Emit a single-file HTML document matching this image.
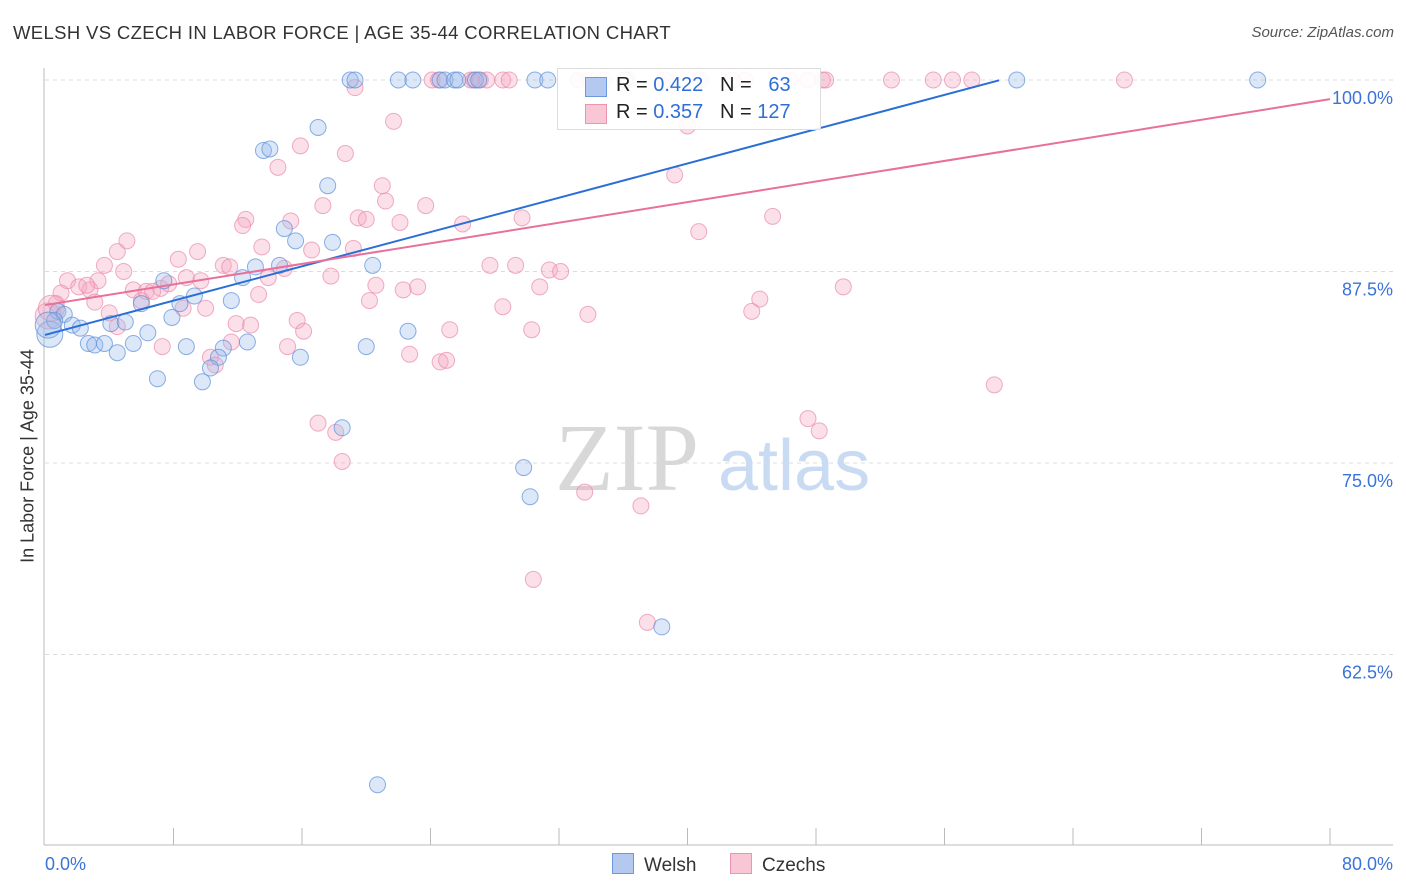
<!DOCTYPE html>
<html><head><meta charset="utf-8"><style>
body{margin:0;background:#fff;font-family:"Liberation Sans",sans-serif;}
#wrap{position:relative;width:1406px;height:892px;overflow:hidden;}
.t{position:absolute;white-space:nowrap;}
</style></head><body>
<div id="wrap">
<div class="t" style="left:13px;top:22px;font-size:18.5px;letter-spacing:0.35px;color:#333;">WELSH VS CZECH IN LABOR FORCE | AGE 35-44 CORRELATION CHART</div>
<div class="t" style="right:12px;top:24px;font-size:15px;color:#555;font-style:italic;">Source: ZipAtlas.com</div>
<div class="t" style="left:28px;top:456px;font-size:18px;color:#333;transform:translate(-50%,-50%) rotate(-90deg);">In Labor Force | Age 35-44</div>
<svg id="svg" width="1406" height="892" style="position:absolute;left:0;top:0"></svg>
</div>
<script>
const welshX=[19.0,19.3,22.0,22.9,24.6,24.9,25.5,25.7,26.8,27.0,30.5,31.3,36.1,60.5,75.5,17.0,13.6,14.0,17.6,14.9,15.6,17.9,20.4,13.1,14.6,12.3,7.4,9.3,11.6,6.0,8.4,7.9,0.8,1.2,1.7,2.2,4.1,5.0,6.4,2.7,3.1,3.7,4.5,5.5,8.8,12.6,11.1,10.8,10.3,15.9,20.0,22.6,7.0,9.8,18.5,29.8,30.2,38.4,20.7,0.3,0.6,0.2];
const welshY=[100,100,100,100,100,100,100,100,100,100,100,100,100,100,100,96.9,95.4,95.5,93.1,90.3,89.5,89.4,87.9,87.8,87.9,87.1,86.9,85.9,85.6,85.4,85.4,84.5,84.9,84.7,84.0,83.8,84.1,84.2,83.5,82.8,82.7,82.8,82.2,82.8,82.6,82.9,82.5,81.9,81.2,81.9,82.6,83.6,80.5,80.3,77.3,74.7,72.8,64.3,54.0,83.4,84.3,84.0];
const czechX=[19.3,24.1,24.5,26.5,26.7,27.1,27.5,28.5,28.9,33.2,33.9,34.8,36.3,38.6,40.8,42.8,43.6,46.4,47.5,48.4,48.6,52.7,55.3,56.5,57.7,67.2,21.7,15.9,18.7,14.5,21.0,39.2,12.5,12.3,17.3,21.2,19.5,20.0,22.1,23.7,26.0,29.7,45.3,40.7,15.3,13.5,9.5,5.1,4.5,19.2,16.6,8.3,3.7,4.9,3.3,1.4,8.8,9.7,11.1,11.5,13.9,14.9,17.8,20.6,22.3,23.2,27.7,29.3,31.4,32.1,30.8,49.7,44.5,44.0,33.8,28.5,1.0,2.1,2.8,2.6,3.1,0.7,5.5,6.3,7.2,7.7,6.7,8.6,10.0,13.3,20.2,6.0,4.0,4.5,11.9,12.8,15.7,16.1,25.2,30.3,7.3,11.6,15.1,10.3,10.6,22.7,24.6,25.0,17.0,18.1,18.5,47.5,48.2,59.1,33.6,37.1,30.4,37.5,40.0,0.2,0.4];
const czechY=[99.5,100,100,100,100,100,100,100,100,100,100,100,100,100,100,100,100,100,100,100,100,100,100,100,100,100,97.3,95.7,95.2,94.3,93.1,93.8,90.9,90.5,91.8,92.1,91.0,90.9,90.7,91.8,90.6,91.0,91.1,90.1,90.8,89.1,88.8,89.5,88.8,89.0,88.9,88.3,87.9,87.5,86.9,86.9,87.1,86.9,87.9,87.8,87.1,87.7,87.2,86.6,86.3,86.5,87.9,87.9,87.6,87.5,86.5,86.5,85.7,84.9,84.7,85.2,86.1,86.5,86.3,86.6,85.5,85.4,86.3,86.2,86.4,86.7,86.2,85.1,85.1,86.0,85.6,85.6,84.8,83.9,84.1,84.0,84.3,83.6,83.7,83.7,82.6,82.9,82.6,81.9,81.4,82.1,81.6,81.7,77.6,77.0,75.1,77.9,77.1,80.1,73.1,72.2,67.4,64.6,97.0,84.6,85.1];
const welshTrend=[83.36,0.2798];
const czechTrend=[85.31,0.168];
const yTicks=[100,87.5,75,62.5];
const yTickLabels=["100.0%","87.5%","75.0%","62.5%"];

const NS="http://www.w3.org/2000/svg";
const svg=document.getElementById('svg');
const X=v=>45+v*1285/80;
const Y=v=>80+(100-v)*191.5/12.5;
function el(tag,a,p){const e=document.createElementNS(NS,tag);for(const k in a)e.setAttribute(k,a[k]);(p||svg).appendChild(e);return e;}
yTicks.forEach((v,i)=>{
 const g=el('line',{x1:45,x2:1393,y1:Y(v),y2:Y(v),stroke:'#dcdcdc','stroke-dasharray':'4,4'});
 
 
 const t=el('text',{x:1393,y:Y(v)+24,'text-anchor':'end','font-size':18,fill:'#3b73d8','font-family':'Liberation Sans, sans-serif'});
 t.textContent=yTickLabels[i];
 
 
});
let a=el('line',{x1:44,x2:44,y1:68,y2:845,stroke:'#bbb'});


a=el('line',{x1:44,x2:1393,y1:845,y2:845,stroke:'#bbb'});


for(let i=1;i<=10;i++){const tk=el('line',{x1:X(i*8),x2:X(i*8),y1:828,y2:845,stroke:'#bbb'});
 
 }
[['0.0%',45,'start'],['80.0%',1393,'end']].forEach(d=>{const t=el('text',{x:d[1],y:870,'text-anchor':d[2],'font-size':18,fill:'#3b73d8','font-family':'Liberation Sans, sans-serif'});t.textContent=d[0];
 
 });
let w=el('text',{x:555,y:490,'font-size':96,fill:'#d8d8d8','font-family':'Liberation Serif, serif'});w.textContent='ZIP';


w=el('text',{x:718,y:490,'font-size':72,fill:'#c9dbf3','font-family':'Liberation Sans, sans-serif'});w.textContent='atlas';


function pts(xs,ys,fill,stroke,name){xs.forEach((x,i)=>{const r=(x<0.5)?13:8;const c=el('circle',{cx:X(x),cy:Y(ys[i]),r:r,fill:fill,'fill-opacity':0.35,stroke:stroke,'stroke-opacity':0.7,'stroke-width':1});
 
 });}
pts(czechX,czechY,'#f4a7c0','#e98aaa','czech-point');
pts(welshX,welshY,'#9bbbec','#5b8fd9','welsh-point');
let l=el('line',{x1:X(0),y1:Y(welshTrend[0]),x2:X(59.4),y2:Y(welshTrend[0]+welshTrend[1]*59.4),stroke:'#2a6fd6','stroke-width':2});


l=el('line',{x1:X(0),y1:Y(czechTrend[0]),x2:X(80),y2:Y(czechTrend[0]+czechTrend[1]*80),stroke:'#e8709a','stroke-width':2});


</script>
<div style="position:absolute;left:557px;top:68px;width:262px;height:60px;background:rgba(255,255,255,0.9);border:1px solid #ddd;font-size:20px;color:#222;">
 <div style="position:absolute;left:27px;top:8px;width:20px;height:18px;background:#b3c9f0;border:1px solid #6e98dc;"></div>
 <div class="t" style="left:58px;top:5px;">R = <span style="color:#2f6fd5">0.422</span>&nbsp;&nbsp;&nbsp;N = &nbsp;&nbsp;<span style="color:#2f6fd5">63</span></div>
 <div style="position:absolute;left:27px;top:35px;width:20px;height:18px;background:#f9c6d5;border:1px solid #ec95b2;"></div>
 <div class="t" style="left:58px;top:32px;">R = <span style="color:#2f6fd5">0.357</span>&nbsp;&nbsp;&nbsp;N = <span style="color:#2f6fd5">127</span></div>
</div>
<div style="position:absolute;left:612px;top:853px;font-size:19px;color:#333;">
 <span style="display:inline-block;width:20px;height:19px;background:#b3c9f0;border:1px solid #6e98dc;vertical-align:-3px;margin-right:10px;"></span>Welsh</div>
<div style="position:absolute;left:730px;top:853px;font-size:19px;color:#333;">
 <span style="display:inline-block;width:20px;height:19px;background:#f9c6d5;border:1px solid #ec95b2;vertical-align:-3px;margin-right:10px;"></span>Czechs</div>
</body></html>
